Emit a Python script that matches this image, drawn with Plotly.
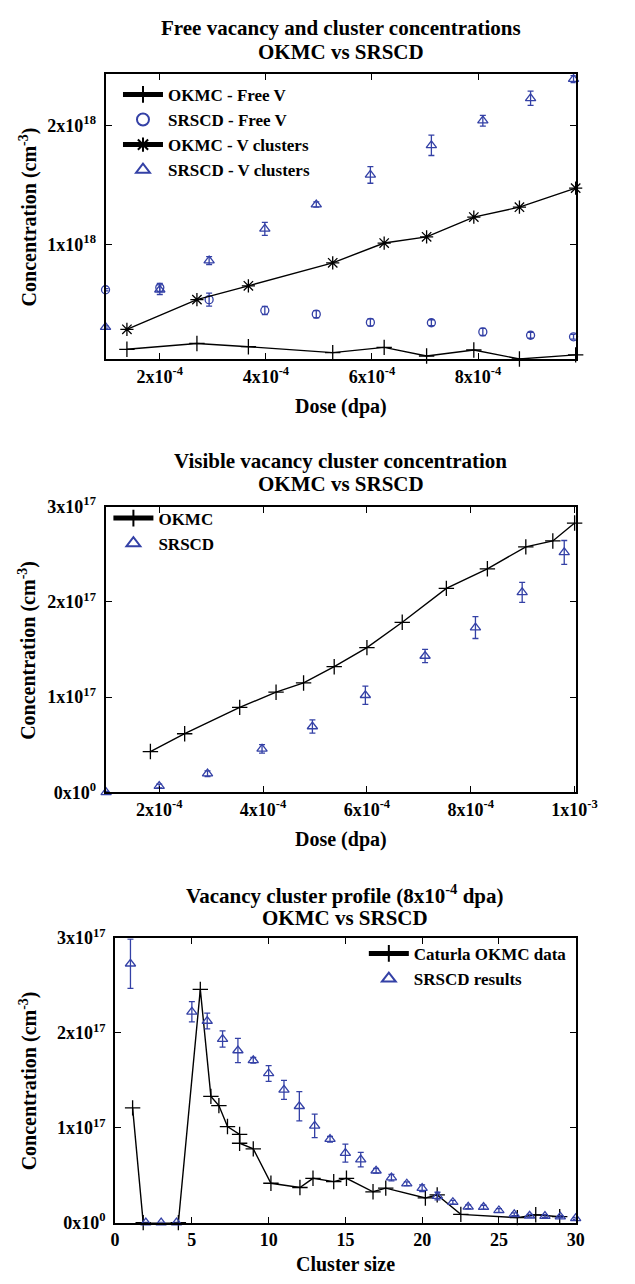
import plotly.graph_objects as go

# ---------------- data: panel 1 (free V and V clusters) ----------------
okmc_dose = [1.38e-4, 2.70e-4, 3.67e-4, 5.26e-4, 6.23e-4, 7.03e-4, 7.92e-4, 8.78e-4, 9.84e-4]
okmc_free_v = [1.22e17, 1.71e17, 1.44e17, 0.94e17, 1.38e17, 0.66e17, 1.16e17, 0.41e17, 0.75e17]
okmc_v_clusters = [2.90e17, 5.39e17, 6.55e17, 8.48e17, 1.014e18, 1.066e18, 1.232e18, 1.315e18, 1.475e18]

srscd_dose = [0.977e-4, 2.00e-4, 2.93e-4, 3.98e-4, 4.95e-4, 5.97e-4, 7.12e-4, 8.09e-4, 8.99e-4, 9.80e-4]
srscd_free_v = [6.22e17, 6.41e17, 5.39e17, 4.48e17, 4.17e17, 3.48e17, 3.45e17, 2.68e17, 2.40e17, 2.27e17]
srscd_free_v_err = [0.10e17, 0.35e17, 0.55e17, 0.35e17, 0.30e17, 0.30e17, 0.25e17, 0.30e17, 0.25e17, 0.20e17]
srscd_v_clusters = [3.09e17, 6.22e17, 8.67e17, 1.133e18, 1.337e18, 1.586e18, 1.834e18, 2.041e18, 2.229e18, 2.390e18]
srscd_v_clusters_err = [0.10e17, 0.40e17, 0.33e17, 0.55e17, 0.22e17, 0.70e17, 0.85e17, 0.45e17, 0.60e17, 0.30e17]

# ---------------- data: panel 2 (visible clusters) ----------------
okmc_vis_dose = [1.83e-4, 2.49e-4, 3.55e-4, 4.25e-4, 4.78e-4, 5.37e-4, 6.00e-4, 6.68e-4,
                 7.53e-4, 8.32e-4, 9.06e-4, 9.58e-4, 1.0e-3]
okmc_visible = [0.429e17, 0.616e17, 0.893e17, 1.052e17, 1.149e17, 1.320e17, 1.520e17, 1.786e17,
                2.142e17, 2.348e17, 2.578e17, 2.640e17, 2.828e17]
srscd_visible = [0.0, 0.066e17, 0.197e17, 0.457e17, 0.692e17, 1.020e17, 1.432e17, 1.731e17, 2.101e17, 2.520e17]
srscd_visible_err = [0.01e17, 0.02e17, 0.03e17, 0.045e17, 0.07e17, 0.095e17, 0.07e17, 0.115e17, 0.105e17, 0.125e17]

# ---------------- data: panel 3 (cluster profile) ----------------
caturla_size = [1.14, 1.83, 4.12, 5.55, 6.24, 6.76, 7.32, 8.11, 8.11, 9.0, 10.15, 12.04, 12.89,
                14.24, 15.07, 16.80, 17.63, 20.21, 20.98, 22.52, 26.2, 27.4, 28.96]
caturla_conc = [1.21e17, 0.0, 0.0, 2.46e17, 1.331e17, 1.234e17, 1.013e17, 0.930e17, 0.837e17,
                0.778e17, 0.415e17, 0.370e17, 0.467e17, 0.432e17, 0.467e17, 0.325e17, 0.363e17,
                0.260e17, 0.292e17, 0.087e17, 0.052e17, 0.082e17, 0.062e17]
srscd_size = list(range(1, 31))
srscd_profile = [2.73e17, 0.0, 0.0, 0.0, 2.223e17, 2.126e17, 1.936e17, 1.815e17, 1.711e17, 1.573e17,
                 1.400e17, 1.227e17, 1.020e17, 0.880e17, 0.733e17, 0.664e17, 0.547e17, 0.474e17,
                 0.410e17, 0.363e17, 0.280e17, 0.215e17, 0.166e17, 0.163e17, 0.128e17, 0.087e17,
                 0.072e17, 0.069e17, 0.062e17, 0.045e17]
srscd_profile_err = [0.26e17, 0.003e17, 0.003e17, 0.003e17, 0.107e17, 0.083e17, 0.085e17, 0.127e17,
                     0.03e17, 0.083e17, 0.10e17, 0.155e17, 0.124e17, 0.03e17, 0.095e17, 0.076e17,
                     0.025e17, 0.035e17, 0.02e17, 0.035e17, 0.04e17, 0.02e17, 0.02e17, 0.02e17,
                     0.02e17, 0.015e17, 0.015e17, 0.015e17, 0.01e17, 0.01e17]

# ---------------- tick labels ----------------
p1_xtickvals = [2e-4, 4e-4, 6e-4, 8e-4]
p1_xticktext = ["2x10<sup>-4</sup>", "4x10<sup>-4</sup>", "6x10<sup>-4</sup>", "8x10<sup>-4</sup>"]
p1_ytickvals = [1e18, 2e18]
p1_yticktext = ["1x10<sup>18</sup>", "2x10<sup>18</sup>"]
p2_xtickvals = [2e-4, 4e-4, 6e-4, 8e-4, 1e-3]
p2_xticktext = ["2x10<sup>-4</sup>", "4x10<sup>-4</sup>", "6x10<sup>-4</sup>", "8x10<sup>-4</sup>", "1x10<sup>-3</sup>"]
p23_ytickvals = [0, 1e17, 2e17, 3e17]
p23_yticktext = ["0x10<sup>0</sup>", "1x10<sup>17</sup>", "2x10<sup>17</sup>", "3x10<sup>17</sup>"]
p3_xtickvals = [0, 5, 10, 15, 20, 25, 30]
p3_xticktext = ["0", "5", "10", "15", "20", "25", "30"]

W, H = 635, 1284
FAM = "Liberation Serif, Times New Roman, serif"
BLUE = "#3441a6"
BLACK = "#000000"


def py(p):
    return 1 - p / H


def px(p):
    return p / W


fig = go.Figure()

err_style = dict(type="data", color=BLUE, thickness=1.3, width=3, visible=True)

# panel 1
fig.add_trace(go.Scatter(x=okmc_dose, y=okmc_free_v, mode="lines+markers", name="OKMC - Free V",
                         line=dict(color=BLACK, width=1.4),
                         marker=dict(symbol="cross-thin", size=11, line=dict(color=BLACK, width=1.3)),
                         xaxis="x", yaxis="y", legend="legend", cliponaxis=False))
fig.add_trace(go.Scatter(x=srscd_dose, y=srscd_free_v, mode="markers", name="SRSCD - Free V",
                         marker=dict(symbol="circle-open", size=8, color=BLUE, line=dict(color=BLUE, width=1.3)),
                         error_y=dict(array=srscd_free_v_err, **err_style),
                         xaxis="x", yaxis="y", legend="legend", cliponaxis=False))
fig.add_trace(go.Scatter(x=okmc_dose, y=okmc_v_clusters, mode="lines+markers", name="OKMC - V clusters",
                         line=dict(color=BLACK, width=1.4),
                         marker=dict(symbol="asterisk", size=11, line=dict(color=BLACK, width=1.3)),
                         xaxis="x", yaxis="y", legend="legend", cliponaxis=False))
fig.add_trace(go.Scatter(x=srscd_dose, y=srscd_v_clusters, mode="markers", name="SRSCD - V clusters",
                         marker=dict(symbol="triangle-up-open", size=9, color=BLUE, line=dict(color=BLUE, width=1.3)),
                         error_y=dict(array=srscd_v_clusters_err, **err_style),
                         xaxis="x", yaxis="y", legend="legend", cliponaxis=False))

# panel 2
fig.add_trace(go.Scatter(x=okmc_vis_dose, y=okmc_visible, mode="lines+markers", name="OKMC",
                         line=dict(color=BLACK, width=1.4),
                         marker=dict(symbol="cross-thin", size=11, line=dict(color=BLACK, width=1.3)),
                         xaxis="x2", yaxis="y2", legend="legend2", cliponaxis=False))
fig.add_trace(go.Scatter(x=srscd_dose, y=srscd_visible, mode="markers", name="SRSCD",
                         marker=dict(symbol="triangle-up-open", size=9, color=BLUE, line=dict(color=BLUE, width=1.3)),
                         error_y=dict(array=srscd_visible_err, **err_style),
                         xaxis="x2", yaxis="y2", legend="legend2", cliponaxis=False))

# panel 3
fig.add_trace(go.Scatter(x=caturla_size, y=caturla_conc, mode="lines+markers", name="Caturla OKMC data",
                         line=dict(color=BLACK, width=1.4),
                         marker=dict(symbol="cross-thin", size=11, line=dict(color=BLACK, width=1.3)),
                         xaxis="x3", yaxis="y3", legend="legend3", cliponaxis=False))
fig.add_trace(go.Scatter(x=srscd_size, y=srscd_profile, mode="markers", name="SRSCD results",
                         marker=dict(symbol="triangle-up-open", size=9, color=BLUE, line=dict(color=BLUE, width=1.3)),
                         error_y=dict(array=srscd_profile_err, **err_style),
                         xaxis="x3", yaxis="y3", legend="legend3", cliponaxis=False))

tickfont = dict(family=FAM, size=18, color=BLACK, weight="bold")
axis_common = dict(showline=True, linecolor=BLACK, linewidth=2, mirror="ticks", ticks="inside",
                   ticklen=6, tickwidth=1.3, tickcolor=BLACK, showgrid=False, zeroline=False,
                   tickfont=tickfont, tickmode="array")
yaxis_extra = dict(ticklabelstandoff=4)

legend_font = dict(family=FAM, size=17, color=BLACK, weight="bold")
legend_common = dict(font=legend_font, bgcolor="rgba(0,0,0,0)", borderwidth=0,
                     tracegroupgap=0, itemsizing="constant", itemwidth=40)

fig.update_layout(
    width=W, height=H,
    margin=dict(l=0, r=0, t=0, b=0),
    paper_bgcolor="white", plot_bgcolor="white",
    font=dict(family=FAM, color=BLACK),
    xaxis=dict(domain=[px(105), px(596)], range=[0.977e-4, 9.84e-4], anchor="y",
               tickvals=p1_xtickvals, ticktext=p1_xticktext, **axis_common),
    yaxis=dict(domain=[py(353), py(62.7)], range=[4.1e16, 2.436e18], anchor="x",
               tickvals=p1_ytickvals, ticktext=p1_yticktext, **axis_common, **yaxis_extra),
    xaxis2=dict(domain=[px(105), px(596)], range=[0.966e-4, 1.002e-3], anchor="y2",
                tickvals=p2_xtickvals, ticktext=p2_xticktext, **axis_common),
    yaxis2=dict(domain=[py(794), py(503.3)], range=[0, 3e17], anchor="x2",
                tickvals=p23_ytickvals, ticktext=p23_yticktext, **axis_common, **yaxis_extra),
    xaxis3=dict(domain=[px(115), px(596)], range=[0, 30], anchor="y3",
                tickvals=p3_xtickvals, ticktext=p3_xticktext, **axis_common),
    yaxis3=dict(domain=[py(1231.7), py(942.3)], range=[0, 3e17], anchor="x3",
                tickvals=p23_ytickvals, ticktext=p23_yticktext, **axis_common, **yaxis_extra),
    legend=dict(x=px(118), y=py(66), xanchor="left", yanchor="top", **legend_common),
    legend2=dict(x=px(108), y=py(497), xanchor="left", yanchor="top", **legend_common),
    legend3=dict(x=px(592), y=py(940), xanchor="right", yanchor="top", **legend_common),
    showlegend=True,
)

title_font = dict(family=FAM, size=21, color=BLACK, weight="bold")
label_font = dict(family=FAM, size=20, color=BLACK, weight="bold")

annotations = []


def add_text(text, x, y, font, angle=0):
    annotations.append(dict(text=text, x=px(x), y=py(y), xref="paper", yref="paper",
                            xanchor="center", yanchor="middle", showarrow=False,
                            font=font, textangle=angle))


# titles
add_text("Free vacancy and cluster concentrations", 350.5, 16, title_font)
add_text("OKMC vs SRSCD", 350.5, 40.5, title_font)
add_text("Visible vacancy cluster concentration", 350.5, 457, title_font)
add_text("OKMC vs SRSCD", 350.5, 480.5, title_font)
add_text("Vacancy cluster profile (8x10<sup>-4</sup> dpa)", 355.5, 898, title_font)
add_text("OKMC vs SRSCD", 355.5, 921.5, title_font)
# axis titles
add_text("Dose (dpa)", 350.5, 401, label_font)
add_text("Dose (dpa)", 350.5, 842, label_font)
add_text("Cluster size", 355.5, 1274, label_font)
add_text("Concentration (cm<sup>-3</sup>)", 24, 208, label_font, -90)
add_text("Concentration (cm<sup>-3</sup>)", 24, 649, label_font, -90)
add_text("Concentration (cm<sup>-3</sup>)", 24, 1087, label_font, -90)

fig.update_layout(annotations=annotations)

fig.write_html("out.html")
